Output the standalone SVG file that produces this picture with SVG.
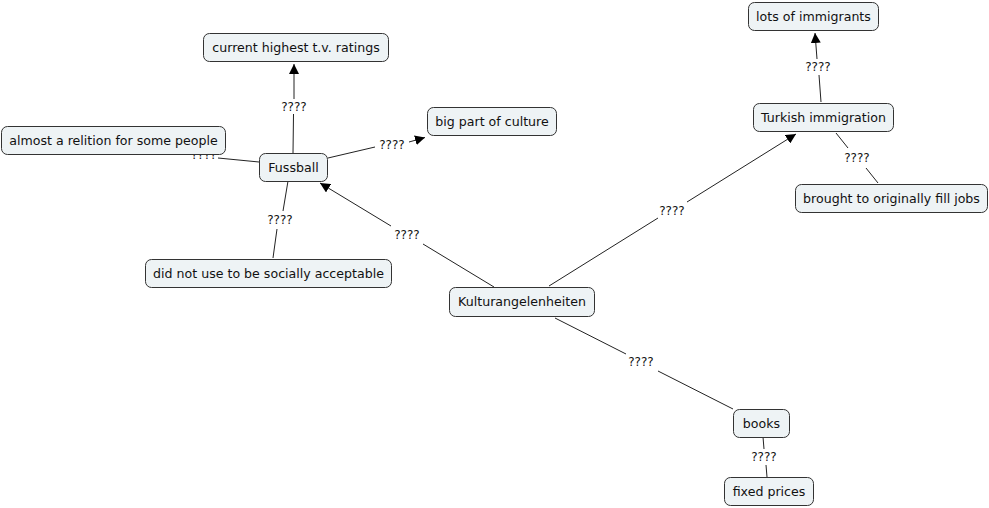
<svg xmlns="http://www.w3.org/2000/svg" width="989" height="508" viewBox="0 0 989 508">
<style>
.n rect{fill:#eef3f5;stroke:#333;stroke-width:1}
.n text,.l text{font-family:"DejaVu Sans",Verdana,sans-serif;fill:#111;text-anchor:middle}
.n text{font-size:12.6px}
.l text{font-size:12px}
.c line{stroke:#222;stroke-width:1}
</style>
<defs>
<marker id="a" viewBox="0 0 10 10" refX="10" refY="5" markerWidth="10" markerHeight="10" markerUnits="userSpaceOnUse" orient="auto"><path d="M0,0L10,5L0,10z" fill="#000"/></marker>
</defs>
<rect width="989" height="508" fill="#fff"/>
<g id="connectors" class="c">
<line x1="293" y1="153" x2="293.5" y2="114"/><line x1="294" y1="99" x2="294" y2="64" marker-end="url(#a)"/>
<line x1="259" y1="162" x2="218" y2="158"/>
<line x1="328" y1="158" x2="375" y2="147"/><line x1="409" y1="142" x2="425" y2="137.5" marker-end="url(#a)"/>
<line x1="494" y1="287" x2="423" y2="244"/><line x1="391" y1="226" x2="320" y2="183" marker-end="url(#a)"/>
<line x1="288" y1="181" x2="283" y2="211"/><line x1="277" y1="229" x2="273" y2="258"/>
<line x1="549" y1="286" x2="658" y2="218"/><line x1="687" y1="202" x2="796" y2="134" marker-end="url(#a)"/>
<line x1="821" y1="102" x2="819" y2="75"/><line x1="817" y1="59" x2="815" y2="33" marker-end="url(#a)"/>
<line x1="836" y1="133" x2="848" y2="148"/><line x1="866" y1="168" x2="878" y2="183"/>
<line x1="555" y1="318" x2="626" y2="354"/><line x1="658" y1="371" x2="733" y2="409"/>
<line x1="763" y1="437" x2="764" y2="449"/><line x1="766" y1="465" x2="767" y2="477"/>
</g>
<g id="labels" class="l">
<text x="294" y="110.5">????</text>
<text x="204" y="158.5">????</text>
<text x="392" y="149">????</text>
<text x="407" y="239">????</text>
<text x="280" y="224">????</text>
<text x="672" y="215">????</text>
<text x="818" y="71">????</text>
<text x="857" y="162">????</text>
<text x="641" y="366">????</text>
<text x="764" y="461">????</text>
</g>
<g id="n-tv" class="n"><rect x="203.5" y="33.5" width="185" height="28" rx="6"/><text x="296" y="52">current highest t.v. ratings</text></g>
<g id="n-rel" class="n"><rect x="1.5" y="126.5" width="224" height="28" rx="6"/><text x="113.5" y="145">almost a relition for some people</text></g>
<g id="n-fuss" class="n"><rect x="259.5" y="153.5" width="68" height="28" rx="6"/><text x="293.5" y="172">Fussball</text></g>
<g id="n-big" class="n"><rect x="427.5" y="107.5" width="129" height="28" rx="6"/><text x="492" y="126">big part of culture</text></g>
<g id="n-did" class="n"><rect x="145.5" y="259.5" width="246" height="28" rx="6"/><text x="268.5" y="278">did not use to be socially acceptable</text></g>
<g id="n-kult" class="n"><rect x="449.5" y="287.5" width="145" height="29" rx="6"/><text x="522" y="306">Kulturangelenheiten</text></g>
<g id="n-lots" class="n"><rect x="748.5" y="2.5" width="130" height="28" rx="6"/><text x="813.5" y="21">lots of immigrants</text></g>
<g id="n-turk" class="n"><rect x="753.5" y="103.5" width="140" height="28" rx="6"/><text x="823.5" y="122">Turkish immigration</text></g>
<g id="n-brought" class="n"><rect x="795.5" y="184.5" width="192" height="28" rx="6"/><text x="891.5" y="203">brought to originally fill jobs</text></g>
<g id="n-books" class="n"><rect x="733.5" y="409.5" width="56" height="28" rx="6"/><text x="761.5" y="428">books</text></g>
<g id="n-fixed" class="n"><rect x="724.5" y="477.5" width="89" height="28" rx="6"/><text x="769" y="496">fixed prices</text></g>
</svg>
